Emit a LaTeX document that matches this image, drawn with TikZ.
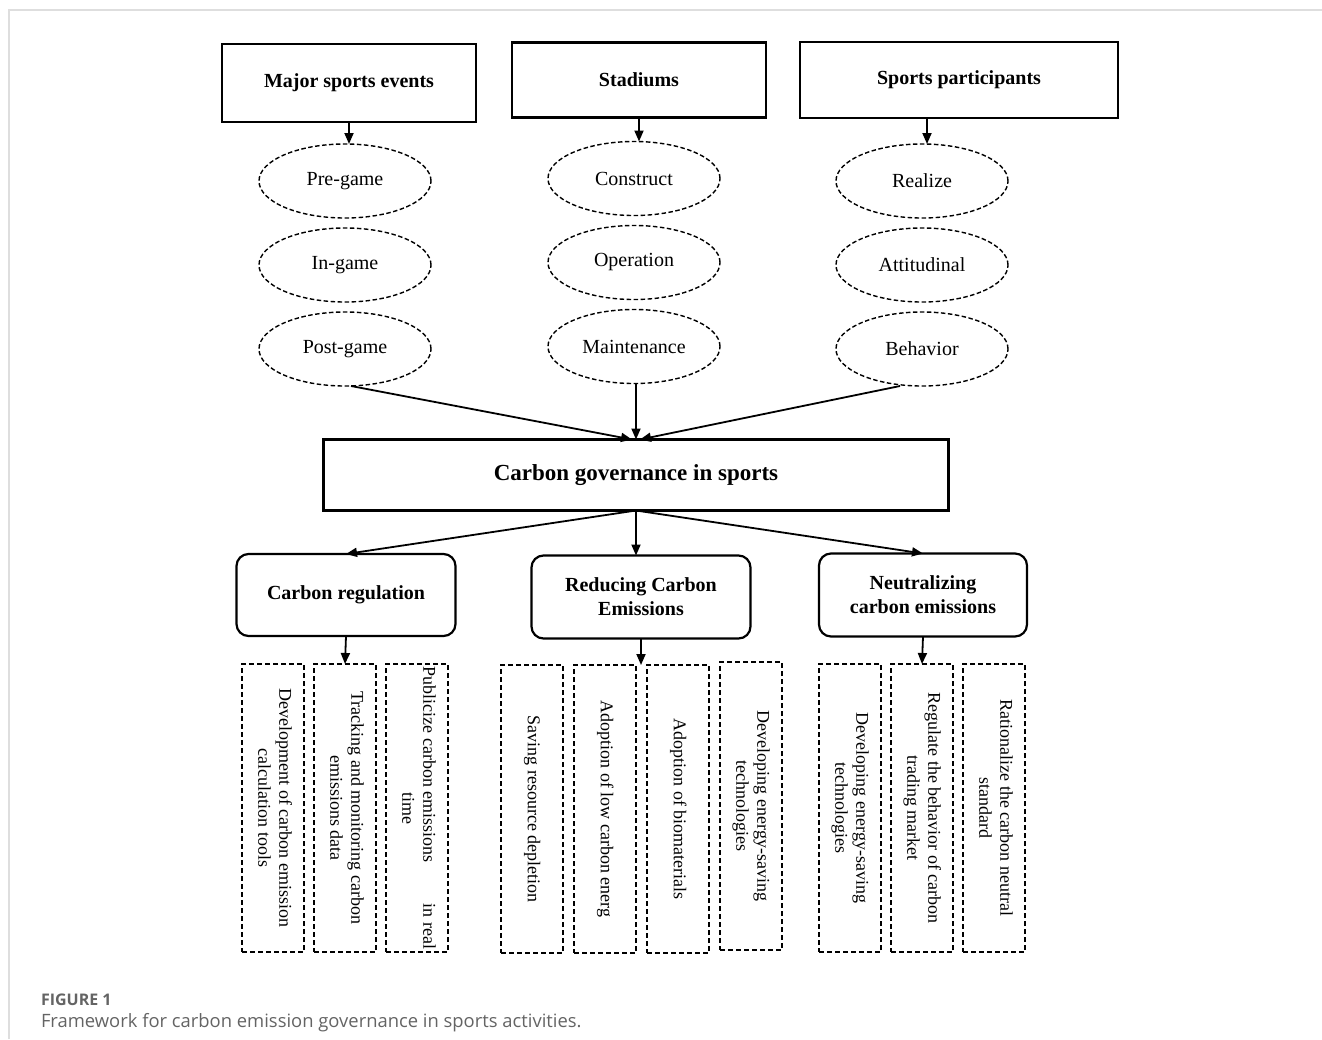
\documentclass[tikz,border=0pt]{standalone}
\usepackage{fontspec}
\usepackage{graphicx}
\setmainfont{Liberation Serif}
\newfontfamily\capfont{Open Sans}
\usetikzlibrary{positioning,shapes.geometric,arrows.meta}

\definecolor{framegray}{RGB}{222,222,222}
\definecolor{capgray}{RGB}{100,100,100}

% text turned to run downwards in the narrow boxes
\newcommand{\downtext}[1]{\rotatebox{-90}{\begin{tabular}{@{}c@{}}#1\end{tabular}}}

\begin{document}
\begin{tikzpicture}[x=1pt,y=-1pt, node distance=10pt,
	every node/.style={outer sep=0pt, font=\fontsize{20}{24}\selectfont},
	headbox/.style={draw, line width=2.6pt, font=\fontsize{20}{24}\selectfont\bfseries},
	stagebox/.style={ellipse, draw, line width=1.4pt, dash pattern=on 4.5pt off 2.5pt, minimum width=172, minimum height=74},
	corebox/.style={draw, line width=2.8pt, font=\fontsize{23}{27}\selectfont\bfseries},
	aimbox/.style={draw, line width=2.2pt, rounded corners=12pt, align=center, font=\fontsize{20}{24}\selectfont\bfseries},
	stepbox/.style={draw, line width=1.6pt, dash pattern=on 5pt off 3pt, minimum width=62, minimum height=288, inner sep=0pt, font=\fontsize{18}{21}\selectfont},
	arrow/.style={-{Triangle[length=11pt,width=9pt]}, line width=1.8pt}]
	
	\useasboundingbox (0,0) rectangle (1322,1039);
	
	% page frame
	\draw[framegray, line width=1.5pt] (9,1039) -- (9,10) -- (1322,10);
	
	% three sources
	\node[headbox, minimum width=254, minimum height=78] (events) at (349,83) {Major sports events};
	\node[headbox, minimum width=254, minimum height=75] (stadiums) at (639,80) {Stadiums};
	\node[headbox, minimum width=318, minimum height=76] (participants) at (959,80) {Sports participants};
	
	% stages of the events
	\node[stagebox, below=22pt of events, xshift=-4pt] (pregame) {Pre-game};
	\node[stagebox, below=10pt of pregame] (ingame) {In-game};
	\node[stagebox, below=10pt of ingame] (postgame) {Post-game};
	
	% stages of the stadiums
	\node[stagebox, below=24pt of stadiums, xshift=-5pt] (construct) {Construct};
	\node[stagebox, below=10pt of construct] (operation) {Operation};
	\node[stagebox, below=10pt of operation] (maintenance) {Maintenance};
	
	% stages of the participants
	\node[stagebox] (realize) at (922,181) {Realize};
	\node[stagebox, below=10pt of realize] (attitude) {Attitudinal};
	\node[stagebox, below=10pt of attitude] (behavior) {Behavior};
	
	% centre
	\node[corebox, minimum width=625, minimum height=71] (govern) at (636,475) {Carbon governance in sports};
	
	% three aims
	\node[aimbox, minimum width=219, minimum height=82] (regulate) at (346,595) {Carbon regulation};
	\node[aimbox, minimum width=219, minimum height=83] (reduce) at (641,597) {Reducing Carbon\\Emissions};
	\node[aimbox, minimum width=208, minimum height=83] (neutral) at (923,595) {Neutralizing\\carbon emissions};
	
	% measures of regulation
	\node[stepbox] (calctool) at (273,808) {\downtext{Development of carbon emission\\calculation tools}};
	\node[stepbox, right=of calctool] (tracking) {\downtext{Tracking and monitoring carbon\\emissions data}};
	\node[stepbox, right=of tracking] (publicize) {\downtext{Publicize carbon emissions\hspace{2.3em}in real\\time}};
	
	% measures of reduction
	\node[stepbox] (saving) at (532,809) {\downtext{Saving resource depletion}};
	\node[stepbox, right=11pt of saving] (lowcarbon) {\downtext{Adoption of low carbon energ}};
	\node[stepbox, right=11pt of lowcarbon] (biomat) {\downtext{Adoption of biomaterials}};
	\node[stepbox, right=11pt of biomat, yshift=3pt] (techsave) {\downtext{Developing energy-saving\\technologies}};
	
	% measures of neutralization
	\node[stepbox] (techneutral) at (850,808) {\downtext{Developing energy-saving\\technologies}};
	\node[stepbox, right=of techneutral] (trading) {\downtext{Regulate the behavior of carbon\\trading market}};
	\node[stepbox, right=of trading] (standard) {\downtext{Rationalize the carbon neutral\\standard}};
	
	% arrows from the sources
	\draw[arrow] (events.south) -- (events.south |- pregame.north);
	\draw[arrow] (stadiums.south) -- (stadiums.south |- construct.north);
	\draw[arrow] ([xshift=5pt]realize.north |- participants.south) -- ([xshift=5pt]realize.north);
	
	% arrows into the centre
	\draw[arrow] ([xshift=6pt]postgame.south) -- ([xshift=-4pt]govern.north);
	\draw[arrow] (govern.north |- maintenance.south) -- (govern.north);
	\draw[arrow] ([xshift=-22pt]behavior.south) -- ([xshift=4pt]govern.north);
	
	% arrows out of the centre
	\draw[arrow] (govern.south) -- (regulate.north);
	\draw[arrow] (govern.south) -- (govern.south |- reduce.north);
	\draw[arrow] (govern.south) -- (neutral.north);
	
	% arrows to the measures
	\draw[arrow] (regulate.south) -- (tracking.north);
	\draw[arrow] (reduce.south) -- (reduce.south |- lowcarbon.north);
	\draw[arrow] (neutral.south) -- (trading.north);
	
	% caption
	\node[anchor=base west, inner sep=0pt, text=capgray, font=\capfont\fontsize{16}{19}\selectfont\bfseries] (figlabel) at (41,1005) {FIGURE 1};
	\node[anchor=base west, inner sep=0pt, text=capgray, font=\capfont\fontsize{18.4}{22}\selectfont] (figcaption) at (41,1027) {Framework for carbon emission governance in sports activities.};
	
\end{tikzpicture}
\end{document}
